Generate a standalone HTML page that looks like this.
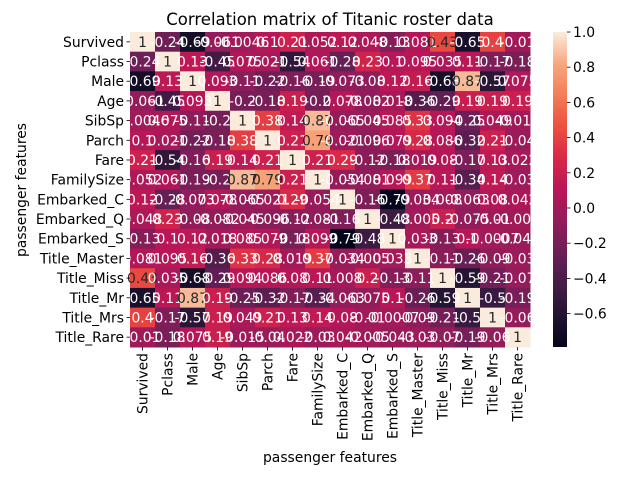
<!DOCTYPE html>
<html><head><meta charset="utf-8"><style>
body{margin:0;background:#fff;font-family:"DejaVu Sans",sans-serif;}
svg{display:block;font-family:"DejaVu Sans",sans-serif}
</style></head><body>
<svg id="chart" width="640" height="480">
<text x="330" y="25" text-anchor="middle" font-size="16.5">Correlation matrix of Titanic roster data</text>
<text x="330" y="462" text-anchor="middle" font-size="13.9">passenger features</text>
<text transform="translate(26,190) rotate(-90)" text-anchor="middle" font-size="13.9">passenger features</text>
<defs><linearGradient id="cb" x1="0" y1="1" x2="0" y2="0"></linearGradient></defs>
<g id="cells"></g><g id="xt"></g><g id="yt"></g><g id="cbar"></g>
</svg>
<script>
const labels=["Survived","Pclass","Male","Age","SibSp","Parch","Fare","FamilySize","Embarked_C","Embarked_Q","Embarked_S","Title_Master","Title_Miss","Title_Mr","Title_Mrs","Title_Rare"];
const row0=[1,-0.24,-0.69,-0.061,-0.0046,0.1,0.21,0.052,0.12,0.048,-0.13,0.081,0.43,-0.65,0.4,-0.01];
const row1=[-0.24,1,0.13,-0.45,0.075,0.021,-0.54,0.061,-0.28,0.23,0.1,0.095,0.035,0.11,-0.17,-0.18];
const row2=[-0.69,0.13,1,0.093,-0.11,-0.22,-0.16,-0.19,-0.073,-0.08,0.12,0.16,-0.68,0.87,-0.57,0.075];
const row3=[-0.061,-0.45,0.093,1,-0.2,-0.18,0.19,-0.2,0.078,-0.082,0.018,-0.36,-0.29,0.19,0.19,0.19];
const row4=[-0.0046,0.075,-0.11,-0.2,1,0.38,0.14,0.87,-0.065,-0.045,0.085,0.33,0.094,-0.25,0.049,-0.015];
const row5=[0.1,0.021,-0.22,-0.18,0.38,1,0.21,0.79,-0.021,-0.096,0.079,0.28,0.086,-0.32,0.21,-0.04];
const row6=[0.21,-0.54,-0.16,0.19,0.14,0.21,1,0.21,0.29,-0.12,-0.18,0.019,0.08,-0.17,0.13,0.022];
const row7=[0.052,0.061,-0.19,-0.2,0.87,0.79,0.21,1,-0.054,-0.081,0.099,0.37,0.11,-0.34,0.14,-0.03];
const row8=[0.12,-0.28,-0.073,0.078,-0.065,-0.021,0.29,-0.054,1,-0.16,-0.79,-0.034,0.008,-0.063,0.08,0.042];
const row9=[0.048,0.23,-0.08,-0.082,-0.045,-0.096,-0.12,-0.081,-0.16,1,-0.48,-0.005,0.2,-0.075,-0.01,-0.005];
const row10=[-0.13,0.1,0.12,0.018,0.085,0.079,-0.18,0.099,-0.79,-0.48,1,0.033,-0.13,0.1,-0.0007,-0.043];
const row11=[0.081,0.095,0.16,-0.36,0.33,0.28,0.019,0.37,-0.034,-0.005,0.033,1,-0.11,-0.26,-0.09,-0.03];
const row12=[0.43,0.035,-0.68,-0.29,0.094,0.086,0.08,0.11,0.008,0.2,-0.13,-0.11,1,-0.59,-0.21,-0.07];
const row13=[-0.65,0.11,0.87,0.19,-0.25,-0.32,-0.17,-0.34,-0.063,-0.075,0.1,-0.26,-0.59,1,-0.5,-0.19];
const row14=[0.4,-0.17,-0.57,0.19,0.049,0.21,0.13,0.14,0.08,-0.01,-0.0007,-0.09,-0.21,-0.5,1,-0.06];
const row15=[-0.01,-0.18,0.075,0.19,-0.015,-0.04,0.022,-0.03,0.042,-0.005,-0.043,-0.03,-0.07,-0.19,-0.06,1];
const matrix=[row0,row1,row2,row3,row4,row5,row6,row7,row8,row9,row10,row11,row12,row13,row14,row15];
const cbTicks=[-0.6,-0.4,-0.2,0.0,0.2,0.4,0.6,0.8,1.0];
const vmin=-0.79, vmax=1;
const stops=[[3,5,26],[34,19,49],[69,28,71],[106,31,86],[146,28,91],[185,22,87],[217,40,71],[237,80,62],[244,125,87],[246,168,126],[250,235,221]];
function cmap(v){let t=Math.max(0,Math.min(1,(v-vmin)/(vmax-vmin)))*(stops.length-1);let i=Math.min(Math.floor(t),stops.length-2),f=t-i;const c=stops[i].map((a,k)=>Math.round(a+(stops[i+1][k]-a)*f));return c;}
const X0=130,Y0=32,W=400,H=315,n=labels.length,cw=W/n,ch=H/n;
const xs=i=>X0+i*cw, ys=j=>Y0+j*ch;
const NS="http://www.w3.org/2000/svg";
function mk(tag,attrs,parent){const e=document.createElementNS(NS,tag);for(const k in attrs)e.setAttribute(k,attrs[k]);parent.appendChild(e);return e;}
function fmt(v){if(v===1)return "1";return Number(v.toPrecision(2)).toString();}
const cells=document.getElementById('cells');
matrix.forEach((row,j)=>row.forEach((v,i)=>{
 const c=cmap(v);
 const r=mk('rect',{x:xs(i),y:ys(j),width:cw+0.5,height:ch+0.5,fill:`rgb(${c})`},cells);
 
 
}));
matrix.forEach((row,j)=>row.forEach((v,i)=>{
 const c=cmap(v);
 const lum=(0.2126*c[0]+0.7152*c[1]+0.0722*c[2])/255;
 const t=mk('text',{x:xs(i)+cw/2,y:ys(j)+ch/2+5,'text-anchor':'middle','font-size':'13.9',fill:lum>0.408?'#262626':'#fff'},cells);
 t.textContent=fmt(v);
 
 
}));
const xt=document.getElementById('xt'),yt=document.getElementById('yt');
labels.forEach((l,i)=>{
 mk('line',{x1:xs(i)+cw/2,x2:xs(i)+cw/2,y1:Y0+H,y2:Y0+H+3.5,stroke:'#000','stroke-width':0.8},xt);
 const t=mk('text',{transform:`translate(${xs(i)+cw/2+5},${Y0+H+6}) rotate(-90)`,'text-anchor':'end','font-size':'13.9'},xt);
 t.textContent=l;
 
 
 mk('line',{x1:X0-3.5,x2:X0,y1:ys(i)+ch/2,y2:ys(i)+ch/2,stroke:'#000','stroke-width':0.8},yt);
 const u=mk('text',{x:X0-6,y:ys(i)+ch/2+5,'text-anchor':'end','font-size':'13.9'},yt);
 u.textContent=l;
 
 
});
const g=document.getElementById('cb');
stops.forEach((s,k)=>mk('stop',{offset:k/(stops.length-1),'stop-color':`rgb(${s})`},g));
const cb=document.getElementById('cbar'),CX=553,CW=14;
const cy=v=>Y0+H-(v-vmin)/(vmax-vmin)*H;
const bar=mk('rect',{x:CX,y:Y0,width:CW,height:H,fill:'url(#cb)'},cb);


cbTicks.forEach(v=>{
 mk('line',{x1:CX+CW,x2:CX+CW+3.5,y1:cy(v),y2:cy(v),stroke:'#000','stroke-width':0.8},cb);
 const t=mk('text',{x:CX+CW+6,y:cy(v)+5,'font-size':'13.9'},cb);
 t.textContent=(v<0?'\u2212':'')+Math.abs(v).toFixed(1);
 
 
});
</script>
</body></html>
